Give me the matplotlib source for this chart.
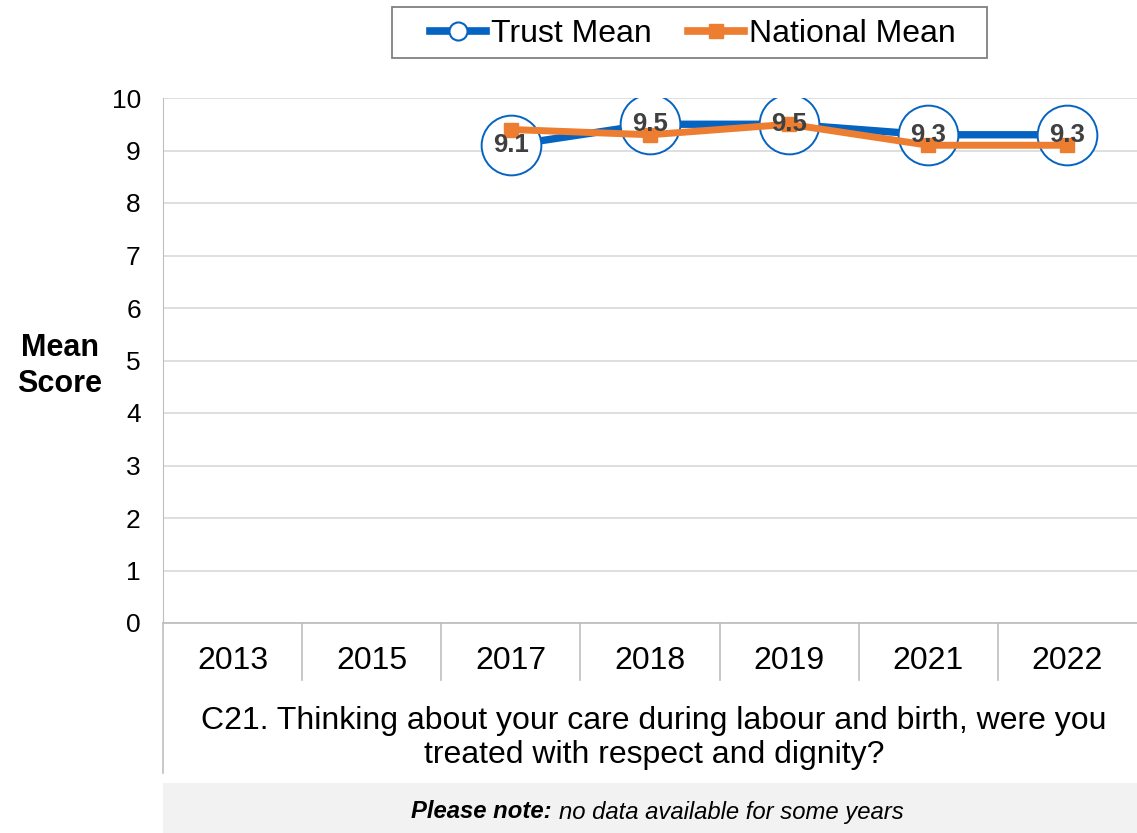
import numpy as np
import matplotlib.pyplot as plt
from matplotlib.lines import Line2D
from matplotlib.patches import Rectangle
import matplotlib.transforms as mtransforms

plt.rcParams["font.family"] = ["Liberation Sans", "DejaVu Sans"]

years = ["2013", "2015", "2017", "2018", "2019", "2021", "2022"]
trust_mean = [np.nan, np.nan, 9.1, 9.5, 9.5, 9.3, 9.3]
national_mean = [np.nan, np.nan, 9.4, 9.3, 9.5, 9.1, 9.1]
trust_labels = ["", "", "9.1", "9.5", "9.5", "9.3", "9.3"]

question = ("C21. Thinking about your care during labour and birth, were you\n"
            "treated with respect and dignity?")

blue = "#0563C1"
orange = "#ED7D31"
grid_col = "#D9D9D9"
axis_col = "#BFBFBF"

W, H = 1137, 833
fig = plt.figure(figsize=(W / 100, H / 100), dpi=100)
ax = fig.add_axes([163 / W, (H - 623) / H, (W - 163) / W, (623 - 98) / H])

x = np.arange(len(years))

ax.plot(x, trust_mean, color=blue, lw=5.3, marker="o", ms=43,
        mfc="white", mec=blue, mew=1.4, zorder=3)
ax.plot(x, national_mean, color=orange, lw=5, marker="s", ms=10,
        mec=orange, zorder=4)

for xi, yi, lab in zip(x, trust_mean, trust_labels):
    if lab:
        ax.text(xi, yi, lab, ha="center", va="center", fontsize=18.5,
                fontweight="bold", color="#404040", zorder=5)

ax.set_xlim(-0.5, len(years) - 0.5)
ax.set_ylim(0, 10)
ax.set_yticks(range(0, 11))
ax.tick_params(axis="y", length=0, labelsize=19, pad=16)
ax.set_xticks([])
ax.grid(axis="y", color=grid_col, lw=1.2)
ax.set_axisbelow(True)
for side in ["top", "right"]:
    ax.spines[side].set_visible(False)
ax.spines["left"].set_color(axis_col)
ax.spines["bottom"].set_color(axis_col)
ax.spines["bottom"].set_linewidth(1.3)

# category boxes under the axis
trans = mtransforms.blended_transform_factory(ax.transData, ax.transAxes)
sep_bottom = -(680 - 623) / 525
for xs in np.arange(0.5, len(years) - 0.5, 1):
    ax.add_line(Line2D([xs, xs], [0, sep_bottom], transform=trans,
                       color=axis_col, lw=1.2, clip_on=False))
ax.add_line(Line2D([-0.5, -0.5], [0, -(773 - 623) / 525], transform=trans,
                   color=axis_col, lw=1.2, clip_on=False))
for xi, yr in zip(x, years):
    ax.text(xi, -(661 - 623) / 525, yr, transform=trans, ha="center",
            va="center", fontsize=23)

fig.text(654 / W, 1 - 738 / H, question, ha="center", va="center",
         fontsize=23, linespacing=1.2)

fig.text(60 / W, 1 - 366 / H, "Mean\nScore", ha="center",
         va="center", fontsize=22, fontweight="bold", linespacing=1.3)

# note strip at the bottom
fig.patches.append(Rectangle((163 / W, 0), (W - 163) / W, 50 / H,
                             transform=fig.transFigure, facecolor="#F2F2F2",
                             edgecolor="none"))
note = fig.text(411 / W, 1 - 812 / H, "Please note:", ha="left", va="center",
                fontsize=17.2, fontstyle="italic", fontweight="bold")
fig.canvas.draw()
bb = note.get_window_extent()
fig.text((bb.x1 + 7) / W, 1 - 812 / H, "no data available for some years",
         ha="left", va="center", fontsize=17.2, fontstyle="italic")

# legend with its own frame
fig.patches.append(Rectangle((392 / W, 1 - 58 / H), (987 - 392) / W, 51 / H,
                             transform=fig.transFigure, facecolor="white",
                             edgecolor="#808080", lw=1.3))
handles = [
    Line2D([], [], color=blue, lw=5.5, marker="o", ms=13, mfc="white",
           mec=blue, mew=1.5),
    Line2D([], [], color=orange, lw=5.5, marker="s", ms=10, mec=orange),
]
fig.legend(handles, ["Trust Mean", "National Mean"], loc="center",
           bbox_to_anchor=(693 / W, 1 - 34 / H), ncol=2, fontsize=23,
           frameon=False, handlelength=1.75, handletextpad=0.15,
           columnspacing=1.15, borderpad=0.3)

fig.savefig("out.png", dpi=100)
